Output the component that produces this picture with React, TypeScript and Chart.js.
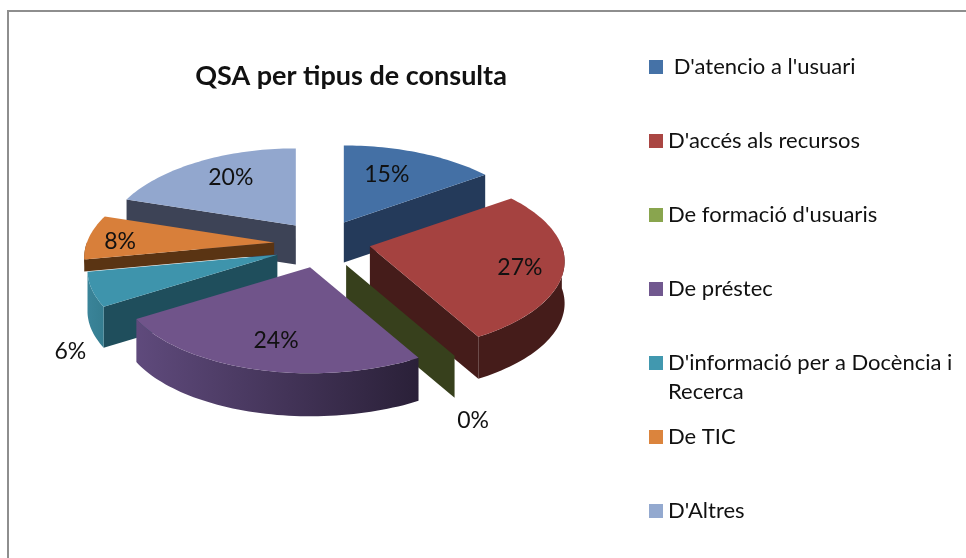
import React, { useEffect, useRef } from "react";
import { Chart, registerables } from "chart.js";

Chart.register(...registerables);

const titleText = "QSA per tipus de consulta";
const categories = [
  " D'atencio a l'usuari",
  "D'accés als recursos",
  "De formació d'usuaris",
  "De préstec",
  "D'informació per a Docència i Recerca",
  "De TIC",
  "D'Altres",
];
const shareValues = [15, 27, 0, 24, 6, 8, 20];

const topColors = ["#4470a5", "#a54240", "#87a24b", "#70548a", "#3e94ac", "#d87f3a", "#92a7ce"];
const legendColors = ["#4572a7", "#aa4643", "#89a54e", "#71588f", "#4198af", "#db843d", "#93a9cf"];
const cutColors = ["#243a5a", "#451c1a", "#37401c", "#2b2139", "#1f4e5c", "#5a3413", "#3d4356"];
const rimColors: [string, string][] = [
  ["#243a5a", "#243a5a"],
  ["#451c1a", "#451c1a"],
  ["#37401c", "#37401c"],
  ["#5f4a7c", "#2a2038"],
  ["#3a8499", "#357d90"],
  ["#5a3413", "#5a3413"],
  ["#3d4356", "#3d4356"],
];
const paintOrder = [6, 0, 5, 4, 1, 2, 3];
const labelShift: [number, number][] = [
  [43, -48],
  [150, 21],
  [127, 156],
  [-34, 73],
  [-207, 97],
  [-154, -1],
  [-65, -48],
];
const sliceNudge: [number, number][] = [
  [0, 0],
  [1, -3],
  [1, 0],
  [0, 0],
  [0, 2],
  [0, 0],
  [2, 1],
];
const sliceDepth = [40, 42, 42, 43, 41, 12, 39];

const FONT = "Lato, 'Open Sans', sans-serif";
const CX = 322, CY = 244, RX = 192, RY = 88, PERSP_X = 0.168, PERSP_BACK = 0.14, PERSP_FRONT = 0.17, LEFT_SCALE = 0.975;
const EXPLODE_X = 48, EXPLODE_Y = 24;
const RAD = Math.PI / 180;

function rim(ax: number, ay: number, t: number): [number, number] {
  const sn = Math.sin(t);
  const cs = Math.cos(t);
  const w = sn < 0 ? LEFT_SCALE : 1;
  const py = cs < 0 ? PERSP_FRONT : PERSP_BACK;
  return [ax + (w * RX * sn) / (1 + PERSP_X * cs), ay - (RY * cs) / (1 + py * cs)];
}

function poly(ctx: CanvasRenderingContext2D, pts: [number, number][], fill: string | CanvasGradient) {
  ctx.beginPath();
  pts.forEach((p, i) => (i ? ctx.lineTo(p[0], p[1]) : ctx.moveTo(p[0], p[1])));
  ctx.closePath();
  ctx.fillStyle = fill;
  ctx.fill();
}

function arcPts(ax: number, ay: number, a: number, b: number, dy = 0) {
  const pts: [number, number][] = [];
  const n = Math.max(2, Math.ceil((b - a) / (1.5 * RAD)));
  for (let i = 0; i <= n; i++) {
    const p = rim(ax, ay, a + ((b - a) * i) / n);
    pts.push([p[0], p[1] + dy]);
  }
  return pts;
}

const pie3d = {
  id: "pie3d",
  beforeDatasetsDraw(chart: any) {
    const ctx: CanvasRenderingContext2D = chart.ctx;
    const arcs = chart.getDatasetMeta(0).data;
    const geo = arcs.map((arc: any, i: number) => {
      const s = arc.startAngle + Math.PI / 2;
      const e = arc.endAngle + Math.PI / 2;
      const m = (s + e) / 2;
      return {
        s,
        e,
        ax: CX + EXPLODE_X * Math.sin(m) + sliceNudge[i][0],
        ay: CY - EXPLODE_Y * Math.cos(m) + sliceNudge[i][1],
      };
    });
    ctx.save();
    paintOrder.forEach((i) => {
      const { s, e, ax, ay } = geo[i];
      const d = sliceDepth[i];
      const cut = (t: number) => {
        const p = rim(ax, ay, t);
        poly(ctx, [[ax, ay], p, [p[0], p[1] + d], [ax, ay + d]], cutColors[i]);
      };
      if (Math.sin(s) < 0 && e > s) cut(s);
      if (Math.sin(e) > 0) cut(e);
      const a = Math.max(s, 90 * RAD);
      const b = Math.min(e, 270 * RAD);
      if (b > a) {
        const top = arcPts(ax, ay, a, b);
        const bot = arcPts(ax, ay, a, b, d).reverse();
        const xs = top.map((p) => p[0]);
        const g = ctx.createLinearGradient(Math.min(...xs), 0, Math.max(...xs), 0);
        g.addColorStop(0, rimColors[i][0]);
        g.addColorStop(1, rimColors[i][1]);
        poly(ctx, [...top, ...bot], g);
      }
      if (e > s) {
        poly(ctx, [[ax, ay], ...arcPts(ax, ay, s, e)], topColors[i]);
      }
    });
    ctx.font = `23px ${FONT}`;
    ctx.fillStyle = "#111";
    ctx.textAlign = "center";
    ctx.textBaseline = "middle";
    shareValues.forEach((v, i) => {
      ctx.fillText(`${v}%`, geo[i].ax + labelShift[i][0], geo[i].ay + labelShift[i][1]);
    });
    ctx.restore();
    return false;
  },
};

function wrap(ctx: CanvasRenderingContext2D, text: string, width: number) {
  const lines: string[] = [];
  let line = "";
  text.split(" ").forEach((w, i) => {
    const next = i === 0 ? w : `${line} ${w}`;
    if (ctx.measureText(next).width > width && line.trim()) {
      lines.push(line);
      line = w;
    } else line = next;
  });
  lines.push(line);
  return lines;
}

const frameAndLegend = {
  id: "frameAndLegend",
  beforeDraw(chart: any) {
    const ctx: CanvasRenderingContext2D = chart.ctx;
    ctx.save();
    ctx.fillStyle = "#fff";
    ctx.fillRect(0, 0, chart.width, chart.height);
    ctx.fillStyle = "#8e8e8e";
    ctx.fillRect(7, 10, chart.width - 7, 2);
    ctx.fillRect(7, 10, 2, chart.height - 10);
    ctx.restore();
  },
  afterDraw(chart: any) {
    const ctx: CanvasRenderingContext2D = chart.ctx;
    ctx.save();
    ctx.font = `22px ${FONT}`;
    ctx.textBaseline = "middle";
    ctx.textAlign = "left";
    categories.forEach((c, i) => {
      const y = 67 + 74 * i;
      ctx.fillStyle = legendColors[i];
      ctx.fillRect(649, y - 7, 14, 14);
      ctx.fillStyle = "#111";
      wrap(ctx, c, 292).forEach((l, j) => ctx.fillText(l, 668, y + j * 29));
    });
    ctx.restore();
  },
};

export default function App() {
  const ref = useRef<HTMLCanvasElement>(null);
  useEffect(() => {
    document.body.style.margin = "0";
    const chart = new Chart(ref.current!, {
      type: "pie",
      data: {
        labels: categories,
        datasets: [{ data: shareValues, backgroundColor: topColors, borderWidth: 0 }],
      },
      options: {
        animation: false,
        responsive: false,
        layout: { padding: { left: 8, right: 272 } },
        plugins: {
          legend: { display: false },
          tooltip: { enabled: false },
          title: {
            display: true,
            text: titleText,
            fullSize: false,
            color: "#111",
            font: { family: FONT, size: 27, weight: "bold" },
            padding: { top: 60, bottom: 10 },
          },
        },
      },
      plugins: [frameAndLegend, pie3d],
    } as any);
    return () => chart.destroy();
  }, []);
  return <canvas ref={ref} width={966} height={558} style={{ display: "block" }} />;
}
